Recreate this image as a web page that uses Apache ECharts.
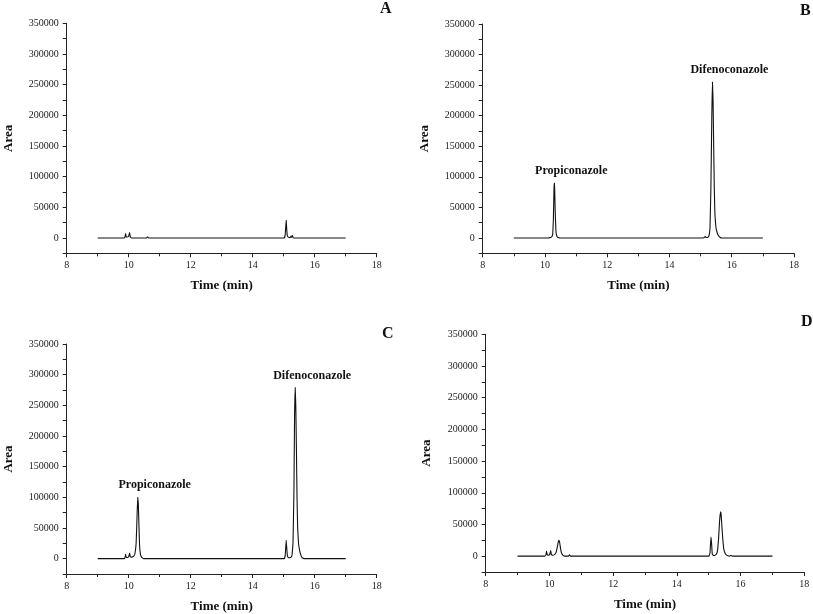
<!DOCTYPE html>
<html>
<head>
<meta charset="utf-8">
<script src="https://cdn.jsdelivr.net/npm/echarts@6/dist/echarts.min.js"></script>
<style>
html,body{margin:0;padding:0;background:#fff;}
#chart{width:813px;height:614px;}
</style>
</head>
<body>
<div id="chart"></div>
<script>
// ---- Data (time in min, area) ----
const chromA = [[9.00,0],[9.85,0],[9.88,1500],[9.90,7000],[9.92,2000],[9.96,1500],[10.00,3000],[10.03,9000],[10.05,2000],[10.08,0],[10.58,0],[10.61,2000],[10.64,0],[15.02,0],[15.05,6000],[15.08,29000],[15.10,12000],[15.12,3000],[15.16,1000],[15.21,500],[15.24,3000],[15.26,1000],[15.28,4000],[15.30,800],[15.34,0],[17.00,0]];
const chromB = [[9.00,0],[10.10,0],[10.18,800],[10.22,2000],[10.25,7000],[10.27,30000],[10.29,80000],[10.30,90000],[10.31,84000],[10.33,42000],[10.35,14000],[10.37,5000],[10.40,1500],[10.45,300],[10.50,0],[15.05,0],[15.12,1000],[15.15,2500],[15.18,800],[15.23,1000],[15.27,4000],[15.30,15000],[15.33,80000],[15.36,200000],[15.38,255000],[15.40,225000],[15.42,150000],[15.44,80000],[15.46,38000],[15.49,18000],[15.53,9000],[15.57,4000],[15.62,1200],[15.68,0],[17.00,0]];
const chromC = [[9.00,0],[9.85,0],[9.88,1500],[9.90,7000],[9.92,2000],[9.96,2000],[10.00,3500],[10.03,9000],[10.05,3000],[10.10,2500],[10.16,4000],[10.20,8000],[10.24,25000],[10.27,70000],[10.29,100000],[10.31,90000],[10.33,55000],[10.35,22000],[10.38,7000],[10.42,2000],[10.48,0],[15.02,0],[15.05,6000],[15.08,30000],[15.10,16000],[15.12,4000],[15.15,1500],[15.20,1500],[15.24,2500],[15.27,6000],[15.30,25000],[15.33,110000],[15.35,230000],[15.37,279000],[15.39,250000],[15.41,180000],[15.43,100000],[15.45,50000],[15.48,24000],[15.52,12000],[15.56,5000],[15.60,1500],[15.66,0],[17.00,0]];
const chromD = [[9.00,0],[9.86,0],[9.89,2000],[9.91,8000],[9.93,2000],[9.97,1500],[10.01,2500],[10.04,9000],[10.06,2500],[10.10,1500],[10.16,2500],[10.21,6000],[10.25,15000],[10.28,23000],[10.30,25000],[10.32,22000],[10.35,12000],[10.38,5000],[10.42,1500],[10.47,0],[10.60,0],[10.63,2000],[10.66,0],[15.01,0],[15.04,5000],[15.07,30000],[15.09,20000],[15.11,4000],[15.14,1000],[15.19,1000],[15.24,3000],[15.28,10000],[15.31,28000],[15.34,55000],[15.37,70000],[15.39,66000],[15.41,50000],[15.44,28000],[15.47,12000],[15.51,5000],[15.55,2000],[15.60,500],[15.66,0],[15.70,1500],[15.74,0],[17.00,0]];

// Peak annotations: [name, time, area]
const peaksB = [['Propiconazole',10.30,90000],['Difenoconazole',15.38,255000]];
const peaksC = [['Propiconazole',10.29,100000],['Difenoconazole',15.37,279000]];

const panelLetters = ['A','B','C','D'];
const xTitle = 'Time (min)';
const yTitle = 'Area';
const xRange = [8, 18];
const yRange = [-25000, 350000];

// ---- Layout ----
const FONT = "'Liberation Serif','Times New Roman',serif";
const grids = [
  {left:66.7, top:23.3, width:310, height:230},
  {left:482.7, top:24, width:311.3, height:229.3},
  {left:66.7, top:344, width:310, height:230},
  {left:485.7, top:334.3, width:318.6, height:237.7}
];
const letterPos = [[386,9],[806,11],[388,334],[807,322]];
const nameGaps = [52, 52, 52, 53];

const chroms = [chromA, chromB, chromC, chromD];
const peaks = [[], peaksB, peaksC, []];

const option = {
  animation:false,
  backgroundColor:'#fff',
  textStyle:{fontFamily:FONT},
  grid: grids.map(g => Object.assign({containLabel:false, outerBoundsMode:'none'}, g)),
  xAxis: grids.map((g,i) => ({
    type:'value', gridIndex:i, min:xRange[0], max:xRange[1], interval:2,
    name:xTitle, nameLocation:'middle', nameGap:26,
    nameTextStyle:{fontFamily:FONT, fontWeight:'bold', fontSize:13, color:'#111'},
    axisLine:{onZero:false, lineStyle:{color:'#222', width:1}},
    axisTick:{show:true, inside:false, length:4, lineStyle:{color:'#222'}},
    minorTick:{show:true, splitNumber:2, length:3, lineStyle:{color:'#222'}},
    splitLine:{show:false},
    axisLabel:{fontFamily:FONT, fontSize:10, color:'#222', margin:7, showMinLabel:true, showMaxLabel:true}
  })),
  yAxis: grids.map((g,i) => ({
    type:'value', gridIndex:i, min:yRange[0], max:yRange[1], interval:25000,
    name:yTitle, nameLocation:'middle', nameGap:nameGaps[i],
    nameTextStyle:{fontFamily:FONT, fontWeight:'bold', fontSize:13, color:'#111'},
    axisLine:{show:true, onZero:false, lineStyle:{color:'#222', width:1}},
    axisTick:{show:true, inside:false, length:4, lineStyle:{color:'#222'}},
    splitLine:{show:false},
    axisLabel:{fontFamily:FONT, fontSize:10, color:'#222', margin:8, showMinLabel:true, showMaxLabel:true,
      formatter: v => (v >= 0 && v % 50000 === 0) ? String(v) : ''}
  })),
  series: chroms.map((d,i) => ({
    type:'line', xAxisIndex:i, yAxisIndex:i, data:d,
    showSymbol:false, symbol:'none', smooth:0.05,
    lineStyle:{color:'#111', width:1.1},
    markPoint: peaks[i].length ? {
      symbol:'circle', symbolSize:0, silent:true,
      data: peaks[i].map(p => ({name:p[0], coord:[p[1], p[2]]})),
      label:{show:true, position:'top', distance:0, offset:[17,-6], formatter:'{b}',
        fontFamily:FONT, fontWeight:'bold', fontSize:12, color:'#111'}
    } : undefined
  })),
  graphic: panelLetters.map((t,i) => ({
    type:'text', left:letterPos[i][0]-6, top:letterPos[i][1]-8,
    style:{text:t, font:"bold 16px 'Liberation Serif','Times New Roman',serif", fill:'#111'}
  }))
};

const chart = echarts.init(document.getElementById('chart'), null, {renderer:'canvas'});
chart.setOption(option);
</script>
</body>
</html>
